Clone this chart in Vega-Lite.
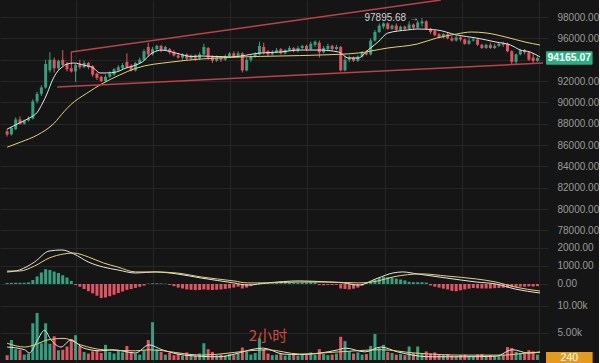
{
"$schema": "https://vega.github.io/schema/vega-lite/v6.json",
"background": "#151515",
"padding": 0,
"spacing": 0,
"config": {
  "view": {"stroke": null},
  "axis": {"domain": false, "ticks": false, "gridColor": "#262626", "gridWidth": 1, "labelColor": "#9a9a9a", "labelFont": "Liberation Sans", "labelFontSize": 10, "labelPadding": 9, "labelOverlap": false, "labelFlush": false, "title": null},
  "concat": {"spacing": 0}
},
"datasets": {
"k": [
{"i":0,"o":87300,"h":87500,"l":86800,"c":87000,"v":900,"m":60},
{"i":1,"o":87000,"h":87700,"l":86900,"c":87600,"v":3700,"m":60},
{"i":2,"o":87500,"h":88600,"l":87400,"c":88400,"v":2000,"m":70},
{"i":3,"o":88400,"h":88700,"l":87900,"c":88000,"v":1900,"m":70},
{"i":4,"o":88000,"h":88400,"l":87900,"c":88300,"v":1000,"m":70},
{"i":5,"o":88300,"h":88700,"l":88200,"c":88500,"v":1200,"m":90},
{"i":6,"o":88500,"h":90300,"l":88400,"c":90100,"v":6800,"m":220},
{"i":7,"o":90100,"h":91000,"l":89900,"c":90800,"v":8700,"m":420},
{"i":8,"o":90800,"h":91600,"l":90600,"c":91400,"v":3100,"m":640},
{"i":9,"o":91400,"h":94000,"l":91300,"c":93600,"v":6800,"m":820},
{"i":10,"o":93000,"h":94700,"l":92800,"c":94000,"v":3000,"m":780},
{"i":11,"o":94000,"h":94200,"l":92800,"c":93200,"v":4400,"m":690},
{"i":12,"o":93200,"h":94000,"l":93000,"c":93900,"v":1800,"m":610},
{"i":13,"o":94000,"h":94900,"l":93300,"c":93500,"v":1900,"m":480},
{"i":14,"o":93600,"h":93800,"l":92900,"c":93100,"v":2500,"m":360},
{"i":15,"o":93200,"h":94700,"l":92800,"c":92900,"v":3900,"m":170},
{"i":16,"o":92900,"h":93600,"l":91900,"c":93500,"v":4600,"m":-60},
{"i":17,"o":93600,"h":94000,"l":93100,"c":93300,"v":2600,"m":-150},
{"i":18,"o":93300,"h":93900,"l":93200,"c":93700,"v":1500,"m":-280},
{"i":19,"o":93700,"h":93800,"l":93100,"c":93300,"v":1200,"m":-400},
{"i":20,"o":93400,"h":93500,"l":92400,"c":92600,"v":1600,"m":-520},
{"i":21,"o":92700,"h":92800,"l":92100,"c":92300,"v":1800,"m":-650},
{"i":22,"o":92400,"h":92500,"l":91900,"c":92000,"v":1300,"m":-780},
{"i":23,"o":92000,"h":92600,"l":91900,"c":92400,"v":2800,"m":-750},
{"i":24,"o":92400,"h":92900,"l":92300,"c":92700,"v":1500,"m":-680},
{"i":25,"o":92600,"h":93200,"l":92500,"c":93100,"v":1200,"m":-600},
{"i":26,"o":93000,"h":93500,"l":92900,"c":93300,"v":1700,"m":-500},
{"i":27,"o":93200,"h":93700,"l":93100,"c":93500,"v":1400,"m":-420},
{"i":28,"o":93800,"h":94600,"l":93200,"c":93300,"v":2600,"m":-330},
{"i":29,"o":93400,"h":93600,"l":92900,"c":93000,"v":1500,"m":-280},
{"i":30,"o":93000,"h":93800,"l":92900,"c":93700,"v":1200,"m":-220},
{"i":31,"o":93700,"h":94200,"l":93600,"c":94000,"v":1000,"m":-160},
{"i":32,"o":94000,"h":95000,"l":93900,"c":94800,"v":1800,"m":-90},
{"i":33,"o":95200,"h":95600,"l":94300,"c":94500,"v":3700,"m":20},
{"i":34,"o":94500,"h":95200,"l":94400,"c":95000,"v":7000,"m":40},
{"i":35,"o":95000,"h":95400,"l":94800,"c":95300,"v":2000,"m":40},
{"i":36,"o":95300,"h":95400,"l":94700,"c":94900,"v":1500,"m":30},
{"i":37,"o":94900,"h":95300,"l":94800,"c":95200,"v":1000,"m":20},
{"i":38,"o":95000,"h":95100,"l":94500,"c":94700,"v":1300,"m":-50},
{"i":39,"o":94700,"h":94900,"l":94300,"c":94400,"v":900,"m":-120},
{"i":40,"o":94400,"h":94600,"l":94100,"c":94200,"v":1200,"m":-200},
{"i":41,"o":94200,"h":94600,"l":94000,"c":94500,"v":800,"m":-250},
{"i":42,"o":94500,"h":94600,"l":93900,"c":94100,"v":1400,"m":-300},
{"i":43,"o":94100,"h":94500,"l":94000,"c":94400,"v":1000,"m":-320},
{"i":44,"o":94400,"h":94500,"l":93900,"c":94100,"v":800,"m":-330},
{"i":45,"o":94100,"h":94700,"l":94000,"c":94500,"v":1200,"m":-330},
{"i":46,"o":94500,"h":95500,"l":94400,"c":95200,"v":3100,"m":-300},
{"i":47,"o":95100,"h":95200,"l":94000,"c":94200,"v":2000,"m":-320},
{"i":48,"o":94300,"h":94400,"l":93700,"c":93900,"v":1500,"m":-330},
{"i":49,"o":93900,"h":94400,"l":93800,"c":94200,"v":900,"m":-320},
{"i":50,"o":94200,"h":94300,"l":93800,"c":94000,"v":1000,"m":-300},
{"i":51,"o":94000,"h":94500,"l":93900,"c":94300,"v":800,"m":-270},
{"i":52,"o":94300,"h":94700,"l":94200,"c":94600,"v":1100,"m":-240},
{"i":53,"o":94600,"h":94800,"l":94200,"c":94300,"v":900,"m":-200},
{"i":54,"o":94300,"h":94800,"l":94200,"c":94600,"v":1200,"m":-150},
{"i":55,"o":94600,"h":94700,"l":92800,"c":93000,"v":2300,"m":-250},
{"i":56,"o":93000,"h":94200,"l":92900,"c":94000,"v":1500,"m":-200},
{"i":57,"o":94000,"h":94400,"l":93800,"c":94300,"v":1000,"m":-120},
{"i":58,"o":94300,"h":94700,"l":94200,"c":94500,"v":1300,"m":-40},
{"i":59,"o":94500,"h":95700,"l":94400,"c":95300,"v":4000,"m":60},
{"i":60,"o":95200,"h":95600,"l":94500,"c":94700,"v":2000,"m":70},
{"i":61,"o":94800,"h":94900,"l":94300,"c":94500,"v":1200,"m":50},
{"i":62,"o":94500,"h":94900,"l":94400,"c":94700,"v":900,"m":40},
{"i":63,"o":94700,"h":95100,"l":94600,"c":94900,"v":1000,"m":50},
{"i":64,"o":95000,"h":95100,"l":94500,"c":94600,"v":1100,"m":40},
{"i":65,"o":94600,"h":95000,"l":94500,"c":94900,"v":800,"m":50},
{"i":66,"o":94900,"h":95300,"l":94800,"c":95100,"v":900,"m":60},
{"i":67,"o":95100,"h":95200,"l":94700,"c":94800,"v":1100,"m":50},
{"i":68,"o":94800,"h":95300,"l":94700,"c":95100,"v":800,"m":60},
{"i":69,"o":95100,"h":95400,"l":95000,"c":95300,"v":1000,"m":80},
{"i":70,"o":95300,"h":95400,"l":94800,"c":95000,"v":900,"m":80},
{"i":71,"o":95000,"h":95700,"l":94900,"c":95500,"v":1400,"m":100},
{"i":72,"o":95400,"h":95800,"l":95200,"c":95700,"v":1000,"m":90},
{"i":73,"o":95600,"h":95800,"l":94200,"c":94700,"v":2000,"m":-60},
{"i":74,"o":94700,"h":95300,"l":94600,"c":95100,"v":1100,"m":-70},
{"i":75,"o":95000,"h":95500,"l":94900,"c":95300,"v":900,"m":-60},
{"i":76,"o":95300,"h":95400,"l":94900,"c":95000,"v":1000,"m":-60},
{"i":77,"o":95000,"h":95400,"l":94900,"c":95200,"v":1200,"m":-50},
{"i":78,"o":95200,"h":95300,"l":92900,"c":93000,"v":4300,"m":-250},
{"i":79,"o":93000,"h":94400,"l":92900,"c":94000,"v":3500,"m":-280},
{"i":80,"o":94000,"h":94400,"l":93800,"c":94200,"v":1600,"m":-300},
{"i":81,"o":94200,"h":94300,"l":93800,"c":93900,"v":1200,"m":-260},
{"i":82,"o":93900,"h":94400,"l":93800,"c":94300,"v":1400,"m":-200},
{"i":83,"o":94300,"h":94800,"l":94200,"c":94700,"v":1000,"m":-100},
{"i":84,"o":94700,"h":94900,"l":94400,"c":94500,"v":1100,"m":50},
{"i":85,"o":94500,"h":96000,"l":94400,"c":95800,"v":2600,"m":150},
{"i":86,"o":95800,"h":96800,"l":95700,"c":96600,"v":4800,"m":250},
{"i":87,"o":96600,"h":97400,"l":96500,"c":97200,"v":2200,"m":330},
{"i":88,"o":97100,"h":97500,"l":96900,"c":97400,"v":2800,"m":390},
{"i":89,"o":97400,"h":97500,"l":96800,"c":96900,"v":1500,"m":380},
{"i":90,"o":96900,"h":97300,"l":96800,"c":97200,"v":1300,"m":350},
{"i":91,"o":97200,"h":97400,"l":96600,"c":96800,"v":1000,"m":300},
{"i":92,"o":96800,"h":97200,"l":96700,"c":97100,"v":1100,"m":250},
{"i":93,"o":97100,"h":97200,"l":96700,"c":96900,"v":900,"m":200},
{"i":94,"o":96900,"h":97600,"l":96800,"c":97300,"v":2500,"m":120},
{"i":95,"o":97300,"h":97400,"l":96800,"c":97000,"v":1300,"m":100},
{"i":96,"o":97000,"h":97700,"l":96900,"c":97500,"v":2500,"m":100},
{"i":97,"o":97400,"h":97895.68,"l":97100,"c":97600,"v":1200,"m":100},
{"i":98,"o":97600,"h":97700,"l":96800,"c":96900,"v":1600,"m":80},
{"i":99,"o":96900,"h":97000,"l":96400,"c":96600,"v":1200,"m":-80},
{"i":100,"o":96700,"h":96800,"l":96200,"c":96300,"v":1400,"m":-150},
{"i":101,"o":96400,"h":96500,"l":96000,"c":96100,"v":1000,"m":-200},
{"i":102,"o":96100,"h":96500,"l":96000,"c":96400,"v":900,"m":-260},
{"i":103,"o":96400,"h":96500,"l":95900,"c":96000,"v":1100,"m":-300},
{"i":104,"o":96000,"h":96200,"l":95700,"c":95800,"v":800,"m":-380},
{"i":105,"o":95800,"h":96300,"l":95700,"c":96100,"v":700,"m":-400},
{"i":106,"o":96100,"h":96200,"l":95700,"c":95900,"v":900,"m":-350},
{"i":107,"o":95900,"h":96000,"l":95400,"c":95500,"v":1000,"m":-300},
{"i":108,"o":95500,"h":96000,"l":95400,"c":95800,"v":700,"m":-260},
{"i":109,"o":95800,"h":96100,"l":95700,"c":95900,"v":600,"m":-220},
{"i":110,"o":95900,"h":96000,"l":95300,"c":95400,"v":1000,"m":-240},
{"i":111,"o":95400,"h":95500,"l":95000,"c":95100,"v":1100,"m":-250},
{"i":112,"o":95100,"h":95500,"l":95000,"c":95400,"v":800,"m":-250},
{"i":113,"o":95400,"h":95600,"l":95000,"c":95100,"v":900,"m":-250},
{"i":114,"o":95100,"h":95500,"l":95000,"c":95300,"v":700,"m":-230},
{"i":115,"o":95300,"h":95600,"l":95200,"c":95500,"v":800,"m":-220},
{"i":116,"o":95500,"h":95700,"l":95200,"c":95400,"v":1000,"m":-210},
{"i":117,"o":95500,"h":95600,"l":94700,"c":94800,"v":2400,"m":-200},
{"i":118,"o":94800,"h":94900,"l":93600,"c":93800,"v":2200,"m":-180},
{"i":119,"o":93800,"h":94600,"l":93600,"c":94500,"v":1500,"m":-170},
{"i":120,"o":94500,"h":95000,"l":94400,"c":94900,"v":1300,"m":-150},
{"i":121,"o":94900,"h":95000,"l":94500,"c":94700,"v":1200,"m":-150},
{"i":122,"o":94700,"h":94800,"l":93900,"c":94000,"v":1800,"m":-130},
{"i":123,"o":94200,"h":94600,"l":93700,"c":93900,"v":1600,"m":-140},
{"i":124,"o":93900,"h":94300,"l":93800,"c":94165.07,"v":1000,"m":-120}
],
"ma": [
{"s":"MA1","i":0,"v":87500},{"s":"MA1","i":2.9,"v":88070},{"s":"MA1","i":5.2,"v":88540},{"s":"MA1","i":7.1,"v":89100},{"s":"MA1","i":8.3,"v":89940},{"s":"MA1","i":9.4,"v":90880},{"s":"MA1","i":10.6,"v":92100},{"s":"MA1","i":11.7,"v":92850},{"s":"MA1","i":12.9,"v":93320},{"s":"MA1","i":14,"v":93600},{"s":"MA1","i":15.6,"v":93690},{"s":"MA1","i":17.9,"v":93500},{"s":"MA1","i":20.2,"v":93225},{"s":"MA1","i":21.7,"v":92760},{"s":"MA1","i":23.2,"v":92760},{"s":"MA1","i":25.5,"v":92850},{"s":"MA1","i":27.8,"v":93225},{"s":"MA1","i":30.1,"v":93500},{"s":"MA1","i":31.6,"v":93790},{"s":"MA1","i":33.9,"v":94630},{"s":"MA1","i":36.2,"v":94900},{"s":"MA1","i":39.7,"v":94600},{"s":"MA1","i":43.1,"v":94300},{"s":"MA1","i":45.4,"v":94350},{"s":"MA1","i":52.3,"v":94260},{"s":"MA1","i":59.2,"v":94630},{"s":"MA1","i":63.8,"v":94725},{"s":"MA1","i":68.4,"v":94910},{"s":"MA1","i":73,"v":94910},{"s":"MA1","i":77.5,"v":94725},{"s":"MA1","i":79.8,"v":94160},{"s":"MA1","i":82.1,"v":94160},{"s":"MA1","i":84.4,"v":94910},{"s":"MA1","i":86.7,"v":95660},{"s":"MA1","i":89,"v":96500},{"s":"MA1","i":93.6,"v":96790},{"s":"MA1","i":95.9,"v":96880},{"s":"MA1","i":100.5,"v":96790},{"s":"MA1","i":105.1,"v":96320},{"s":"MA1","i":109.7,"v":96040},{"s":"MA1","i":114.3,"v":95660},{"s":"MA1","i":117.7,"v":95380},{"s":"MA1","i":120,"v":94910},{"s":"MA1","i":122.3,"v":94725},{"s":"MA1","i":124.6,"v":94260},
{"s":"MA2","i":0,"v":85800},{"s":"MA2","i":3.3,"v":86300},{"s":"MA2","i":7.1,"v":86950},{"s":"MA2","i":11,"v":88050},{"s":"MA2","i":13.3,"v":89130},{"s":"MA2","i":14.8,"v":89760},{"s":"MA2","i":18.6,"v":90850},{"s":"MA2","i":22.4,"v":91790},{"s":"MA2","i":26.3,"v":92570},{"s":"MA2","i":30.1,"v":93200},{"s":"MA2","i":38.5,"v":93790},{"s":"MA2","i":45.4,"v":94070},{"s":"MA2","i":54.6,"v":94260},{"s":"MA2","i":63.8,"v":94350},{"s":"MA2","i":73,"v":94440},{"s":"MA2","i":82.1,"v":94630},{"s":"MA2","i":89,"v":95100},{"s":"MA2","i":95.9,"v":95475},{"s":"MA2","i":100.5,"v":96040},{"s":"MA2","i":105.1,"v":96410},{"s":"MA2","i":108.5,"v":96600},{"s":"MA2","i":112,"v":96510},{"s":"MA2","i":116.6,"v":96130},{"s":"MA2","i":121.1,"v":95660},{"s":"MA2","i":124.6,"v":95380}
],
"tl": [
{"id":"u","i":14.9,"p":94720},{"id":"u","i":101.4,"p":99600},
{"id":"d","i":11.7,"p":91444},{"id":"d","i":125.3,"p":93694}
],
"macdl": [
{"s":"DIF","i":0,"v":667},{"s":"DIF","i":2.9,"v":780},{"s":"DIF","i":6.4,"v":1220},{"s":"DIF","i":9.8,"v":1830},{"s":"DIF","i":12.8,"v":1890},{"s":"DIF","i":15.6,"v":1670},{"s":"DIF","i":19,"v":1220},{"s":"DIF","i":22.5,"v":940},{"s":"DIF","i":25.9,"v":780},{"s":"DIF","i":30,"v":610},{"s":"DIF","i":34.6,"v":670},{"s":"DIF","i":39.7,"v":560},{"s":"DIF","i":45.4,"v":330},{"s":"DIF","i":53,"v":60},{"s":"DIF","i":56.2,"v":-60},{"s":"DIF","i":60.8,"v":60},{"s":"DIF","i":68.4,"v":170},{"s":"DIF","i":75.2,"v":110},{"s":"DIF","i":78.7,"v":60},{"s":"DIF","i":82.1,"v":-60},{"s":"DIF","i":86.7,"v":330},{"s":"DIF","i":90.2,"v":610},{"s":"DIF","i":92.5,"v":670},{"s":"DIF","i":95.9,"v":560},{"s":"DIF","i":102.8,"v":330},{"s":"DIF","i":109.7,"v":110},{"s":"DIF","i":114.3,"v":0},{"s":"DIF","i":118.8,"v":-280},{"s":"DIF","i":124.6,"v":-500},
{"s":"DEA","i":0,"v":720},{"s":"DEA","i":2.9,"v":720},{"s":"DEA","i":6.4,"v":1000},{"s":"DEA","i":9.8,"v":1440},{"s":"DEA","i":13.3,"v":1670},{"s":"DEA","i":15.6,"v":1720},{"s":"DEA","i":19,"v":1500},{"s":"DEA","i":22.5,"v":1170},{"s":"DEA","i":25.9,"v":940},{"s":"DEA","i":30,"v":670},{"s":"DEA","i":34.6,"v":670},{"s":"DEA","i":39.7,"v":610},{"s":"DEA","i":45.4,"v":390},{"s":"DEA","i":53,"v":170},{"s":"DEA","i":56.2,"v":60},{"s":"DEA","i":60.8,"v":60},{"s":"DEA","i":68.4,"v":110},{"s":"DEA","i":75.2,"v":110},{"s":"DEA","i":82.1,"v":60},{"s":"DEA","i":86.7,"v":170},{"s":"DEA","i":90.2,"v":390},{"s":"DEA","i":97,"v":560},{"s":"DEA","i":102.8,"v":440},{"s":"DEA","i":109.7,"v":280},{"s":"DEA","i":114.3,"v":110},{"s":"DEA","i":118.8,"v":-170},{"s":"DEA","i":124.6,"v":-390}
],
"vma": [
{"s":"V1","i":0,"v":2400},{"s":"V1","i":4.1,"v":1900},{"s":"V1","i":5.2,"v":1300},{"s":"V1","i":7.1,"v":3700},{"s":"V1","i":8.7,"v":5500},{"s":"V1","i":10.3,"v":3700},{"s":"V1","i":12.6,"v":2400},{"s":"V1","i":14.9,"v":3700},{"s":"V1","i":17.9,"v":2200},{"s":"V1","i":21.8,"v":1700},{"s":"V1","i":24.7,"v":1900},{"s":"V1","i":30,"v":1300},{"s":"V1","i":33.2,"v":2800},{"s":"V1","i":36.2,"v":1900},{"s":"V1","i":41.5,"v":900},{"s":"V1","i":49.3,"v":600},{"s":"V1","i":59.9,"v":2200},{"s":"V1","i":64.5,"v":1100},{"s":"V1","i":68.4,"v":1000},{"s":"V1","i":77.5,"v":1900},{"s":"V1","i":79.1,"v":2200},{"s":"V1","i":83.7,"v":1500},{"s":"V1","i":87.4,"v":2400},{"s":"V1","i":91.3,"v":1500},{"s":"V1","i":98.9,"v":600},{"s":"V1","i":106.7,"v":600},{"s":"V1","i":114.3,"v":700},{"s":"V1","i":118.2,"v":1900},{"s":"V1","i":121.8,"v":1300},{"s":"V1","i":124.6,"v":1500},
{"s":"V2","i":0,"v":3100},{"s":"V2","i":4.1,"v":2400},{"s":"V2","i":6.4,"v":2800},{"s":"V2","i":9.4,"v":3700},{"s":"V2","i":13.3,"v":4000},{"s":"V2","i":17.2,"v":2800},{"s":"V2","i":22.5,"v":1900},{"s":"V2","i":30,"v":1700},{"s":"V2","i":33.2,"v":1900},{"s":"V2","i":45.4,"v":900},{"s":"V2","i":60.8,"v":1900},{"s":"V2","i":68.4,"v":1100},{"s":"V2","i":77.5,"v":1500},{"s":"V2","i":87.4,"v":1900},{"s":"V2","i":95.2,"v":1300},{"s":"V2","i":106.7,"v":900},{"s":"V2","i":115.9,"v":900},{"s":"V2","i":121.8,"v":1300},{"s":"V2","i":124.6,"v":1400}
]
},
"vconcat": [
{
"width": 548, "height": 240,
"layer": [
{"data": {"name": "k"}, "mark": {"type": "rule", "strokeWidth": 1},
 "encoding": {
  "x": {"field": "i", "type": "quantitative", "scale": {"domain": [-0.5, 125.3], "nice": false, "zero": false}, "axis": {"values": [16, 34.07, 52.14, 70.2, 88.3, 106.35, 124.4], "tickCount": 20, "labels": false, "grid": true, "title": null}},
  "y": {"field": "l", "type": "quantitative", "scale": {"domain": [77100, 99600], "nice": false, "zero": false}, "axis": {"orient": "right", "values": [78000, 80000, 82000, 84000, 86000, 88000, 90000, 92000, 94000, 96000, 98000], "tickCount": 20, "labelExpr": "datum.value == 94000 ? '' : format(datum.value, '.2f')", "labelOverlap": false, "grid": true, "title": null}},
  "y2": {"field": "h"},
  "color": {"condition": {"test": "datum.c >= datum.o", "value": "#33a07f"}, "value": "#e05561"}}},
{"data": {"name": "k"}, "mark": {"type": "bar", "size": 3},
 "encoding": {
  "x": {"field": "i", "type": "quantitative"},
  "y": {"field": "o", "type": "quantitative"},
  "y2": {"field": "c"},
  "color": {"condition": {"test": "datum.c >= datum.o", "value": "#33a07f"}, "value": "#e05561"}}},
{"data": {"name": "ma"}, "mark": {"type": "line", "strokeWidth": 1, "interpolate": "monotone"},
 "encoding": {
  "x": {"field": "i", "type": "quantitative"},
  "y": {"field": "v", "type": "quantitative"},
  "color": {"field": "s", "type": "nominal", "scale": {"domain": ["MA1", "MA2"], "range": ["#e6e6e6", "#e3d27a"]}, "legend": null}}},
{"data": {"name": "tl"}, "mark": {"type": "line", "color": "#b9434c", "strokeWidth": 1.5, "clip": true},
 "encoding": {
  "x": {"field": "i", "type": "quantitative"},
  "y": {"field": "p", "type": "quantitative"},
  "detail": {"field": "id"}}},
{"data": {"values": [{"t": "97895.68 →", "i": 97, "p": 97895.68}]}, "mark": {"type": "text", "align": "right", "baseline": "middle", "dx": -3, "fontSize": 10, "font": "Liberation Sans", "color": "#d2d2d2"},
 "encoding": {"x": {"field": "i", "type": "quantitative"}, "y": {"field": "p", "type": "quantitative"}, "text": {"field": "t"}}},
{"data": {"values": [{"t": "94165.07"}]}, "mark": {"type": "rect", "color": "#27b081", "cornerRadius": 1},
 "encoding": {"x": {"datum": 126.0, "type": "quantitative"}, "x2": {"datum": 136.9}, "y": {"datum": 93520, "type": "quantitative"}, "y2": {"datum": 94800}}},
{"data": {"values": [{"t": "94165.07", "p": 94165.07}]}, "mark": {"type": "text", "align": "center", "baseline": "middle", "fontSize": 10.5, "fontWeight": "bold", "font": "Liberation Sans", "color": "#ffffff"},
 "encoding": {"x": {"datum": 131.45, "type": "quantitative"}, "y": {"field": "p", "type": "quantitative"}, "text": {"field": "t"}}}
]
},
{
"width": 548, "height": 60,
"layer": [
{"data": {"name": "k"}, "mark": {"type": "bar", "size": 3},
 "encoding": {
  "x": {"field": "i", "type": "quantitative", "scale": {"domain": [-0.5, 125.3], "nice": false, "zero": false}, "axis": {"values": [16, 34.07, 52.14, 70.2, 88.3, 106.35, 124.4], "tickCount": 20, "labels": false, "grid": true, "title": null}},
  "y": {"field": "m", "type": "quantitative", "scale": {"domain": [-889, 2444], "nice": false}, "axis": {"orient": "right", "values": [0, 1000, 2000], "tickCount": 10, "format": ".2f", "labelOverlap": false, "grid": true, "title": null}},
  "color": {"condition": {"test": "datum.m >= 0", "value": "#33a07f"}, "value": "#e05561"}}},
{"data": {"name": "macdl"}, "mark": {"type": "line", "strokeWidth": 1, "interpolate": "monotone"},
 "encoding": {
  "x": {"field": "i", "type": "quantitative"},
  "y": {"field": "v", "type": "quantitative"},
  "color": {"field": "s", "type": "nominal", "scale": {"domain": ["DIF", "DEA"], "range": ["#e6e6e6", "#e3d27a"]}, "legend": null}}}
]
},
{
"width": 548, "height": 63,
"layer": [
{"data": {"name": "k"}, "mark": {"type": "bar", "size": 3},
 "encoding": {
  "x": {"field": "i", "type": "quantitative", "scale": {"domain": [-0.5, 125.3], "nice": false, "zero": false}, "axis": {"values": [16, 34.07, 52.14, 70.2, 88.3, 106.35, 124.4], "tickCount": 20, "labels": false, "grid": true, "title": null}},
  "y": {"field": "v", "type": "quantitative", "scale": {"domain": [-556, 11111], "nice": false}, "axis": {"orient": "right", "values": [5000, 10000], "tickCount": 10, "labelExpr": "format(datum.value / 1000, '.2f') + 'k'", "labelOverlap": false, "grid": true, "title": null}},
  "color": {"condition": {"test": "datum.c >= datum.o", "value": "#33a07f"}, "value": "#e05561"}}},
{"data": {"name": "vma"}, "mark": {"type": "line", "strokeWidth": 1, "interpolate": "monotone"},
 "encoding": {
  "x": {"field": "i", "type": "quantitative"},
  "y": {"field": "v", "type": "quantitative"},
  "color": {"field": "s", "type": "nominal", "scale": {"domain": ["V1", "V2"], "range": ["#e6e6e6", "#e3d27a"]}, "legend": null}}},
{"data": {"values": [{"t": "2小时", "i": 61, "p": 4400}]}, "mark": {"type": "text", "align": "center", "baseline": "middle", "fontSize": 15, "font": "Noto Sans CJK SC", "color": "#d4473f"},
 "encoding": {"x": {"field": "i", "type": "quantitative"}, "y": {"field": "p", "type": "quantitative"}, "text": {"field": "t"}}},
{"data": {"values": [{"t": "240"}]}, "mark": {"type": "rect", "color": "#e39a1e"},
 "encoding": {"x": {"datum": 126.0, "type": "quantitative"}, "x2": {"datum": 136.9}, "y": {"datum": -556, "type": "quantitative"}, "y2": {"datum": 1500}}},
{"data": {"values": [{"t": "240", "p": 450}]}, "mark": {"type": "text", "align": "center", "baseline": "middle", "fontSize": 10.5, "font": "Liberation Sans", "color": "#ffffff"},
 "encoding": {"x": {"datum": 131.45, "type": "quantitative"}, "y": {"field": "p", "type": "quantitative"}, "text": {"field": "t"}}}
]
}
]
}
